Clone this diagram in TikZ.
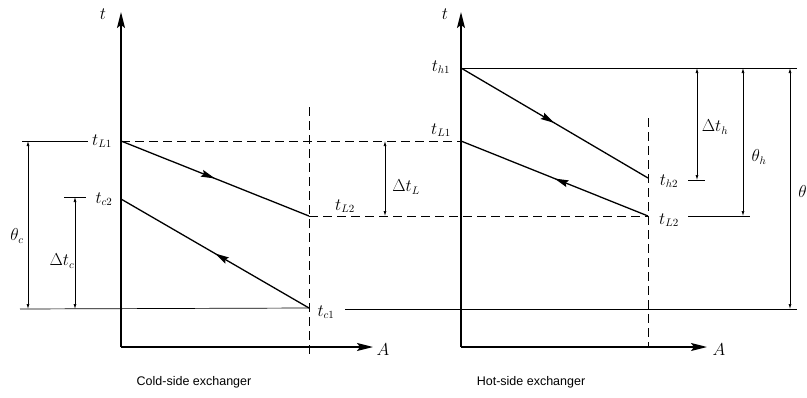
\documentclass[tikz,border=0pt]{standalone}
\usepackage{fontspec}
\newfontfamily\capfont{Liberation Sans}
\usetikzlibrary{arrows.meta, decorations.markings, positioning}

\begin{document}
\begin{tikzpicture}[
  x=1pt, y=-1pt,
  axis/.style={line width=1.5pt, -{Stealth[length=16pt, width=8pt, inset=3pt]}},
  flow/.style={line width=1.3pt, postaction={decorate, decoration={markings,
      mark=at position 0.5 with {\arrow{Stealth[length=14pt, width=7pt, inset=2pt]}}}}},
  guide/.style={line width=0.7pt},
  level/.style={line width=1pt, dash pattern=on 9pt off 5pt},
  dimline/.style={line width=0.7pt, {Latex[length=5pt, width=3pt]}-{Latex[length=5pt, width=3pt]}},
  lab/.style={font=\fontsize{16}{18}\selectfont, inner sep=1pt},
  caption/.style={font=\capfont\fontsize{12.5}{15}\selectfont},
]
\useasboundingbox (0,0) rectangle (807,397);

% cold-side exchanger
\coordinate (o1) at (121,347);
\coordinate (t1top) at (121,12);
\coordinate (a1end) at (373,347);
\coordinate (l1a) at (121,141);
\coordinate (l2a) at (309,216);
\coordinate (c2) at (121,199);
\coordinate (c1) at (309,308);
\coordinate (v1top) at (309,107);
\coordinate (v1bot) at (309,358);

% hot-side exchanger
\coordinate (o2) at (461,347);
\coordinate (t2top) at (461,12);
\coordinate (a2end) at (707,347);
\coordinate (h1) at (461,68);
\coordinate (h2) at (648,178);
\coordinate (l1b) at (461,141);
\coordinate (l2b) at (648,216);
\coordinate (v2top) at (648,118);
\coordinate (v2bot) at (648,346);

\draw[axis] (o1) -- (t1top);
\draw[axis] (o1) -- (a1end);
\draw[axis] (o2) -- (t2top);
\draw[axis] (o2) -- (a2end);

\node[lab] (tax1) at (103,14) {$t$};
\node[lab] (aax1) at (383,350) {$A$};
\node[lab] (tax2) at (445,14) {$t$};
\node[lab] (aax2) at (719,350) {$A$};

% levels
\draw[level] (l1a) -- (l1b);
\draw[level] (l2a) -- (l2b);
\draw[level] (v1top) -- (v1bot);
\draw[level] (v2top) -- (v2bot);

% temperature lines
\draw[flow] (l1a) -- (l2a);
\draw[flow] (c1) -- (c2);
\draw[flow] (h1) -- (h2);
\draw[flow] (l2b) -- (l1b);

% reference lines
\coordinate (ll1) at (22,141);
\coordinate (lr1) at (88,141);
\coordinate (bl) at (20,309);
\coordinate (br1) at (345,309);
\coordinate (br2) at (797,309);
\coordinate (hr) at (797,68);
\coordinate (c2l) at (64,197);
\coordinate (c2r) at (86,197);
\coordinate (h2l) at (688,180);
\coordinate (h2r) at (705,180);
\coordinate (l2l) at (688,216);
\coordinate (l2r) at (750,216);
\draw[guide] (ll1) -- (lr1);
\draw[guide] (bl) -- (c1);
\draw[guide] (br1) -- (br2);
\draw[guide] (h1) -- (hr);
\draw[guide] (c2l) -- (c2r);
\draw[guide] (h2l) -- (h2r);
\draw[guide] (l2l) -- (l2r);

% dimensions
\coordinate (thc1) at (28,141);  \coordinate (thc2) at (28,309);
\coordinate (dtc1) at (75,197);  \coordinate (dtc2) at (75,309);
\coordinate (dtl1) at (385,141); \coordinate (dtl2) at (385,216);
\coordinate (dth1) at (697,68);  \coordinate (dth2) at (697,180);
\coordinate (thh1) at (743,68);  \coordinate (thh2) at (743,216);
\coordinate (tht1) at (790,68);  \coordinate (tht2) at (790,309);
\draw[dimline] (thc1) -- (thc2);
\draw[dimline] (dtc1) -- (dtc2);
\draw[dimline] (dtl1) -- (dtl2);
\draw[dimline] (dth1) -- (dth2);
\draw[dimline] (thh1) -- (thh2);
\draw[dimline] (tht1) -- (tht2);

% labels
\node[lab] (tl1a) at (102,141) {$t_{L1}$};
\node[lab] (tc2) at (104,199) {$t_{c2}$};
\node[lab] (tl2a) at (345,206) {$t_{L2}$};
\node[lab] (tc1) at (326,312) {$t_{c1}$};
\node[lab] (dtl) at (406,187) {$\Delta t_L$};
\node[lab] (thc) at (17,236) {$\theta_c$};
\node[lab] (dtc) at (62,261) {$\Delta t_c$};
\node[lab] (th1) at (441,67) {$t_{h1}$};
\node[lab] (tl1b) at (441,130) {$t_{L1}$};
\node[lab] (th2) at (669,181) {$t_{h2}$};
\node[lab] (tl2b) at (669,220) {$t_{L2}$};
\node[lab] (dth) at (715,127) {$\Delta t_h$};
\node[lab] (thh) at (759,157) {$\theta_h$};
\node[lab, anchor=east, inner sep=0pt] (tht) at (807,191) {$\theta$};

\node[caption] (cold) at (194,382) {Cold-side exchanger};
\node[caption] (hot) at (531,382) {Hot-side exchanger};
\end{tikzpicture}
\end{document}
